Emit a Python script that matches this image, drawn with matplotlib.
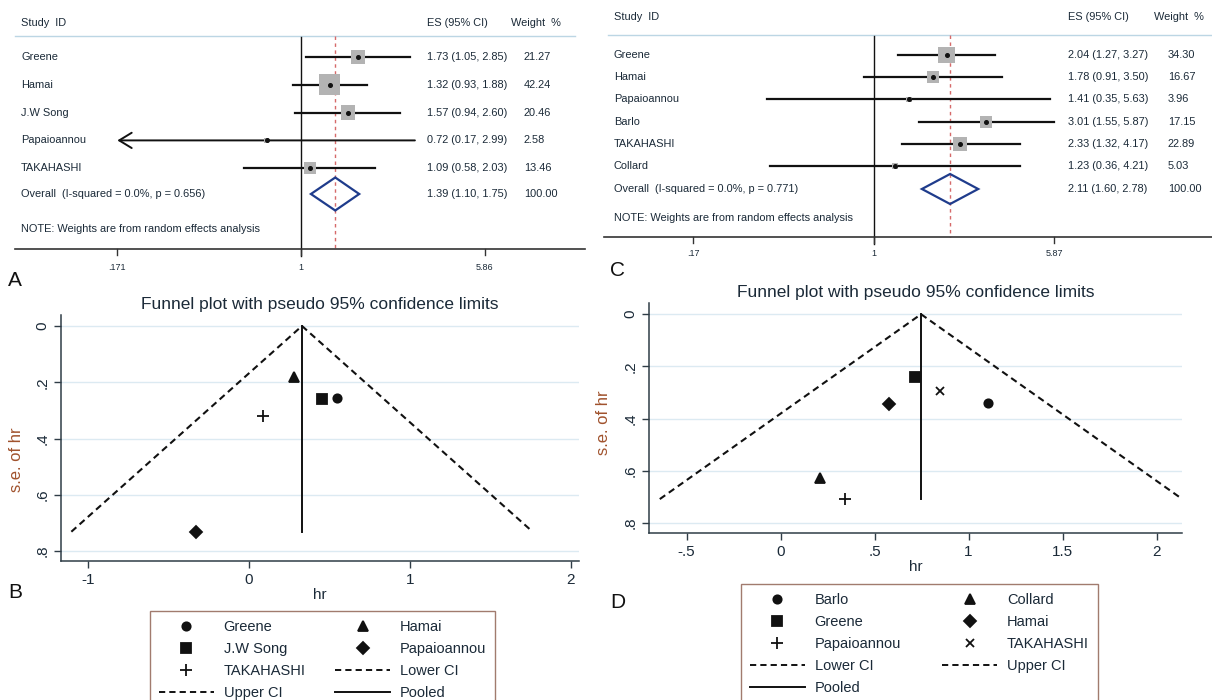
import numpy as np
import matplotlib.pyplot as plt
from matplotlib.patches import Rectangle, Polygon
from matplotlib.lines import Line2D

W, H = 1212, 700

# ---------------------------------------------------------------
# Datos del forest plot A (HR, IC 95%, peso %)
# ---------------------------------------------------------------
studies_a = ["Greene", "Hamai", "J.W Song", "Papaioannou", "TAKAHASHI"]
hr_a = [1.73, 1.32, 1.57, 0.72, 1.09]
lo_a = [1.05, 0.93, 0.94, 0.17, 0.58]
hi_a = [2.85, 1.88, 2.60, 2.99, 2.03]
weight_a = [21.27, 42.24, 20.46, 2.58, 13.46]
overall_a = [1.39, 1.10, 1.75]
overall_label_a = "Overall  (I-squared = 0.0%, p = 0.656)"
ticks_a = [0.171, 1, 5.86]
ticklabels_a = [".171", "1", "5.86"]

# Datos del forest plot C
studies_c = ["Greene", "Hamai", "Papaioannou", "Barlo", "TAKAHASHI", "Collard"]
hr_c = [2.04, 1.78, 1.41, 3.01, 2.33, 1.23]
lo_c = [1.27, 0.91, 0.35, 1.55, 1.32, 0.36]
hi_c = [3.27, 3.50, 5.63, 5.87, 4.17, 4.21]
weight_c = [34.30, 16.67, 3.96, 17.15, 22.89, 5.03]
overall_c = [2.11, 1.60, 2.78]
overall_label_c = "Overall  (I-squared = 0.0%, p = 0.771)"
ticks_c = [0.17, 1, 5.87]
ticklabels_c = [".17", "1", "5.87"]

# Funnel B (log hr, error estandar)
funnel_b_names = ["Greene", "Hamai", "J.W Song", "Papaioannou", "TAKAHASHI"]
funnel_b_hr = [0.548, 0.278, 0.451, -0.329, 0.086]
funnel_b_se = [0.255, 0.180, 0.260, 0.731, 0.320]
funnel_b_markers = ["o", "^", "s", "D", "+"]
pooled_b = 0.329
xticks_b = [-1, 0, 1, 2]
xticklabels_b = ["-1", "0", "1", "2"]

# Funnel D
funnel_d_names = ["Barlo", "Collard", "Greene", "Hamai", "Papaioannou", "TAKAHASHI"]
funnel_d_hr = [1.102, 0.207, 0.713, 0.577, 0.344, 0.846]
funnel_d_se = [0.340, 0.627, 0.241, 0.344, 0.709, 0.293]
funnel_d_markers = ["o", "^", "s", "D", "+", "x"]
pooled_d = 0.747
xticks_d = [-0.5, 0, 0.5, 1, 1.5, 2]
xticklabels_d = ["-.5", "0", ".5", "1", "1.5", "2"]

yticks_funnel = [0, 0.2, 0.4, 0.6, 0.8]
yticklabels_funnel = ["0", ".2", ".4", ".6", ".8"]

# ---------------------------------------------------------------
TXT = "#1b2a38"
AZUL_CLARO = "#bcd6e4"
GRIS_CAJA = "#b3b3b3"
ROJO = "#d66a6a"
DIAMANTE = "#1f3c8c"
MARRON = "#a0522d"

plt.rcParams["font.family"] = ["Liberation Sans", "DejaVu Sans"]
fig = plt.figure(figsize=(W / 100, H / 100), dpi=100)


def px_axes(x0, y0, x1, y1):
    return fig.add_axes([x0 / W, 1 - y1 / H, (x1 - x0) / W, (y1 - y0) / H])


def forest(ax, nombres, hr, lo, hi, pesos, total, etiqueta_total, ticks, ticklabels, L):
    cx, s = L["cx"], L["s"]
    px = lambda p: (p - cx) / s
    ax.set_xlim(px(L["x0"]), px(L["x1"]))
    ax.set_ylim(280, 0)
    ax.axis("off")
    fs = L["fs"]
    kw = dict(fontsize=fs, color=TXT, va="center", ha="left")

    lhr, llo, lhi = np.log(hr), np.log(lo), np.log(hi)
    xmin, xmax = np.log(ticks[0]), np.log(ticks[-1])
    filas = L["y0"] + L["dy"] * np.arange(len(nombres))

    # encabezado
    ax.text(px(L["x_name"]), L["y_head"], "Study  ID", **kw)
    ax.text(px(L["x_es"]), L["y_head"], "ES (95% CI)", **kw)
    ax.text(px(L["x_w"]), L["y_head"], "Weight  %", **kw)
    ax.plot([px(L["x_name"] - 6), px(L["hl_end"])], [L["y_hl"]] * 2, color=AZUL_CLARO, lw=1)

    # linea nula y linea del efecto global
    ax.plot([0, 0], [L["y_hl"] + 1, L["y_axis"] + 7], color="#111111", lw=1)
    ax.plot([np.log(total[0])] * 2, [L["y_hl"], L["y_axis"]], color=ROJO, lw=1,
            ls=(0, (2.5, 2.5)))

    for i, y in enumerate(filas):
        a, b = max(llo[i], xmin), min(lhi[i], xmax)
        if llo[i] < xmin:
            ax.annotate("", xy=(xmin, y), xytext=(b, y),
                        arrowprops=dict(arrowstyle="->,head_length=0.9,head_width=0.55",
                                        lw=1.4, color="#111111", shrinkA=0, shrinkB=0))
        else:
            ax.plot([a, b], [y, y], color="#111111", lw=1.6, zorder=2)
        lado = L["k"] * np.sqrt(pesos[i])
        ax.add_patch(Rectangle((lhr[i] - lado / 2 / s, y - lado / 2), lado / s, lado,
                               facecolor=GRIS_CAJA, edgecolor="none", zorder=3))
        ax.plot(lhr[i], y, "o", ms=2.6, color="#111111", zorder=4)
        ax.text(px(L["x_name"]), y, nombres[i], **kw)
        ax.text(px(L["x_es"]), y, f"{hr[i]:.2f} ({lo[i]:.2f}, {hi[i]:.2f})", **kw)
        ax.text(px(L["x_wval"]), y, f"{pesos[i]:.2f}", **kw)

    # diamante global
    yo, hd = L["y_over"], L["dh"]
    lt = np.log(total)
    ax.add_patch(Polygon([(lt[1], yo), (lt[0], yo - hd), (lt[2], yo), (lt[0], yo + hd)],
                         closed=True, fill=False, edgecolor=DIAMANTE, lw=1.6, zorder=3))
    ax.text(px(L["x_name"]), yo, etiqueta_total, **kw)
    ax.text(px(L["x_es"]), yo, f"{total[0]:.2f} ({total[1]:.2f}, {total[2]:.2f})", **kw)
    ax.text(px(L["x_wval"]), yo, "100.00", **kw)
    ax.text(px(L["x_name"]), L["y_note"], "NOTE: Weights are from random effects analysis",
            **kw)

    # eje inferior
    ax.plot([px(L["ax0"]), px(L["ax1"])], [L["y_axis"]] * 2, color="#333333", lw=1.2)
    for t, lab in zip(ticks, ticklabels):
        ax.plot([np.log(t)] * 2, [L["y_axis"], L["y_axis"] + 6], color="#333333", lw=1)
        ax.text(np.log(t), L["y_tl"], lab, fontsize=6.5, color=TXT, ha="center", va="center")


def funnel(ax, hr, se, marcadores, nombres, pooled, xlim, ylim, xticks, xticklabels,
           leg_anchor, ylab_y, colsp):
    semax = max(se)
    dash = (0, (3.2, 2.1))
    ax.plot([pooled - 1.96 * semax, pooled], [semax, 0], color="#111111", lw=1.5, ls=dash)
    ax.plot([pooled, pooled + 1.96 * semax], [0, semax], color="#111111", lw=1.5, ls=dash)
    ax.plot([pooled, pooled], [0, semax], color="#111111", lw=1.4)
    tam = {"o": 6, "^": 7, "s": 6.5, "D": 6.5, "+": 8, "x": 6}
    handles = []
    for h, s_, m, n in zip(hr, se, marcadores, nombres):
        ax.plot(h, s_, marker=m, ms=tam[m], color="#111111", mew=1.3, ls="none")
        handles.append(Line2D([], [], marker=m, ms=tam[m], color="#111111", mew=1.3,
                              ls="none", label=n))
    handles.append(Line2D([], [], color="#111111", lw=1.4, ls=dash, label="Lower CI"))
    handles.append(Line2D([], [], color="#111111", lw=1.4, ls=dash, label="Upper CI"))
    handles.append(Line2D([], [], color="#111111", lw=1.4, label="Pooled"))

    ax.set_xlim(*xlim)
    ax.set_ylim(*ylim)
    ax.set_xticks(xticks, xticklabels)
    ax.set_yticks(yticks_funnel, yticklabels_funnel)
    for sp in ["top", "right"]:
        ax.spines[sp].set_visible(False)
    for sp in ["left", "bottom"]:
        ax.spines[sp].set_color("#2f3d47")
        ax.spines[sp].set_linewidth(1.1)
    ax.tick_params(direction="out", length=5, width=1, color="#2f3d47",
                   labelsize=11, labelcolor=TXT)
    for lab in ax.get_yticklabels():
        lab.set_rotation(90)
        lab.set_va("center")
    ax.yaxis.grid(True, color="#dceaf2", lw=1)
    ax.set_axisbelow(True)
    ax.set_title("Funnel plot with pseudo 95% confidence limits", fontsize=12.5, color=TXT,
                 pad=4)
    ax.set_xlabel("hr", fontsize=11, color=TXT, labelpad=1)
    ax.set_ylabel("s.e. of hr", fontsize=12, color=MARRON)
    ax.yaxis.set_label_coords(-0.072, ylab_y)

    # orden por filas como en Stata
    n = len(handles)
    filas = (n + 1) // 2
    orden = [handles[2 * r] for r in range(filas)] + \
            [handles[2 * r + 1] for r in range(n // 2)]
    leg = fig.legend(handles=orden, loc="upper left", bbox_to_anchor=leg_anchor,
                     bbox_transform=fig.transFigure, ncol=2, fontsize=10.5,
                     frameon=True, fancybox=False, borderaxespad=0, borderpad=0.6,
                     labelspacing=0.55, handlelength=3.8, handletextpad=0.65,
                     columnspacing=colsp, labelcolor=TXT)
    leg.get_frame().set_edgecolor("#8a5a4a")
    leg.get_frame().set_linewidth(1)


# ---------------------------------------------------------------
ax_a = px_axes(0, 0, 600, 280)
forest(ax_a, studies_a, hr_a, lo_a, hi_a, weight_a, overall_a, overall_label_a,
       ticks_a, ticklabels_a,
       dict(x0=0, x1=600, cx=301, s=104, y0=57, dy=27.8, y_over=194, y_note=229,
            y_head=23, y_hl=36, hl_end=575, y_axis=249, ax0=15, ax1=585, y_tl=267,
            x_name=21, x_es=427, x_w=511, x_wval=524, k=3.2, dh=16.5, fs=7.9))

ax_c = px_axes(600, 0, 1212, 280)
forest(ax_c, studies_c, hr_c, lo_c, hi_c, weight_c, overall_c, overall_label_c,
       ticks_c, ticklabels_c,
       dict(x0=600, x1=1212, cx=874, s=101.9, y0=55, dy=22.2, y_over=189, y_note=218,
            y_head=17, y_hl=35, hl_end=1212, y_axis=237, ax0=604, ax1=1212, y_tl=253,
            x_name=614, x_es=1068, x_w=1154, x_wval=1168, k=2.9, dh=15, fs=7.9))

ax_b = px_axes(61, 315, 579, 561)
funnel(ax_b, funnel_b_hr, funnel_b_se, funnel_b_markers, funnel_b_names, pooled_b,
       (-1.168, 2.05), (0.835, -0.039), xticks_b, xticklabels_b,
       (150 / W, 1 - 611 / H), 0.41, 2.0)

ax_d = px_axes(649, 303, 1182, 533)
funnel(ax_d, funnel_d_hr, funnel_d_se, funnel_d_markers, funnel_d_names, pooled_d,
       (-0.70, 2.135), (0.839, -0.043), xticks_d, xticklabels_d,
       (741 / W, 1 - 584 / H), 0.48, 2.8)

for letra, x, y in [("A", 8, 281), ("B", 8, 592), ("C", 610, 271), ("D", 610, 603)]:
    fig.text(x / W, 1 - y / H, letra, fontsize=15, color="#111111", va="center", ha="left")

fig.savefig("out.png", dpi=100)
